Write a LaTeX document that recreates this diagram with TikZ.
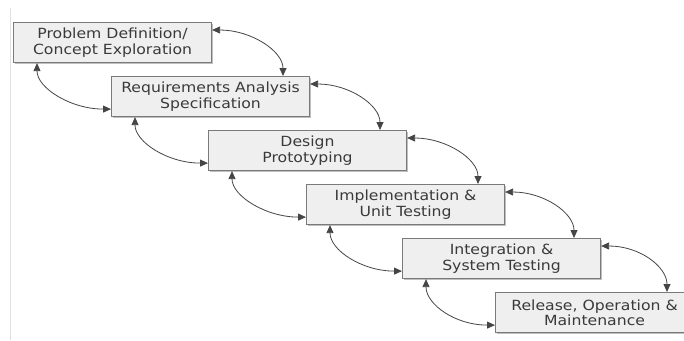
\documentclass[tikz,border=0pt]{standalone}
\usepackage{fontspec}
\setmainfont{DejaVu Sans}[FakeStretch=1.12]
\usetikzlibrary{arrows.meta,shadows,calc}
\definecolor{boxfill}{HTML}{EFEFEF}
\definecolor{boxline}{HTML}{7A7A7A}
\definecolor{txt}{HTML}{3A3A3A}
\definecolor{arr}{HTML}{454545}
\tikzset{
  phase/.style={draw=boxline, line width=1.1pt, fill=boxfill, anchor=north west,
    minimum width=198pt, minimum height=40pt, inner sep=0pt, align=center,
    text=txt, font=\fontsize{14}{15.5}\selectfont,
    drop shadow={shadow xshift=1.2pt, shadow yshift=-1.2pt, fill=black, opacity=0.25}},
  link/.style={draw=arr, line width=0.8pt,
    {Triangle[length=8pt,width=7pt]}-{Triangle[length=8pt,width=7pt]}}
}
\begin{document}
\begin{tikzpicture}[x=1pt,y=-1pt]
\clip (0,0) rectangle (684,340);
\fill[white] (0,0) rectangle (684,340);
\draw[black!12, line width=1pt] (10,8) -- (10,340);
\node[phase] (b1) at (13,22)  {Problem Definition/\\Concept Exploration};
\node[phase] (b2) at (111,76) {Requirements Analysis\\Specification};
\node[phase] (b3) at (208,130) {Design\\Prototyping};
\node[phase] (b4) at (306,184) {Implementation \&\\Unit Testing};
\node[phase] (b5) at (402,238) {Integration \&\\System Testing};
\node[phase] (b6) at (495,292) {Release, Operation \&\\Maintenance};
\foreach \a/\b in {b1/b2,b2/b3,b3/b4,b4/b5,b5/b6}{
  \coordinate (r1) at ($(\a.north east)+(0,8)$);
  \coordinate (r2) at ($(\b.north west)+(172,0)$);
  \draw[link] (r1) .. controls +(39,0) and +(0,-25) .. (r2);
  \coordinate (l1) at ($(\a.south west)+(24,0)$);
  \coordinate (l2) at ($(\b.south west)+(0,-8)$);
  \draw[link] (l1) .. controls +(0,25) and +(-40,0) .. (l2);
}
\end{tikzpicture}
\end{document}
